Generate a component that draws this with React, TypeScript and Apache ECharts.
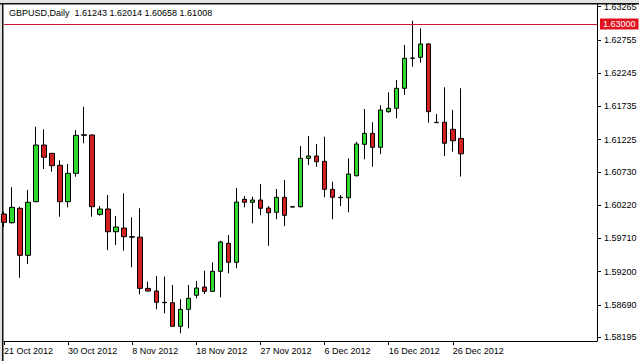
import React, { useEffect, useRef } from 'react';
import * as echarts from 'echarts';

const symbolName = 'GBPUSD';
const timeframe = 'Daily';

const dates = [
  '21 Oct 2012', '22 Oct 2012', '23 Oct 2012', '24 Oct 2012', '25 Oct 2012', '26 Oct 2012',
  '28 Oct 2012', '29 Oct 2012', '30 Oct 2012', '31 Oct 2012', '1 Nov 2012', '2 Nov 2012',
  '4 Nov 2012', '5 Nov 2012', '6 Nov 2012', '7 Nov 2012', '8 Nov 2012', '9 Nov 2012',
  '11 Nov 2012', '12 Nov 2012', '13 Nov 2012', '14 Nov 2012', '15 Nov 2012', '16 Nov 2012',
  '18 Nov 2012', '19 Nov 2012', '20 Nov 2012', '21 Nov 2012', '22 Nov 2012', '23 Nov 2012',
  '25 Nov 2012', '26 Nov 2012', '27 Nov 2012', '28 Nov 2012', '29 Nov 2012', '30 Nov 2012',
  '2 Dec 2012', '3 Dec 2012', '4 Dec 2012', '5 Dec 2012', '6 Dec 2012', '7 Dec 2012',
  '9 Dec 2012', '10 Dec 2012', '11 Dec 2012', '12 Dec 2012', '13 Dec 2012', '14 Dec 2012',
  '16 Dec 2012', '17 Dec 2012', '18 Dec 2012', '19 Dec 2012', '20 Dec 2012', '21 Dec 2012',
  '23 Dec 2012', '24 Dec 2012', '26 Dec 2012', '27 Dec 2012',
];

const opens = [
  1.60083, 1.59950, 1.60171, 1.59449, 1.60272, 1.61142, 1.61015, 1.60831, 1.60272, 1.60708,
  1.61291, 1.61296, 1.60078, 1.60160, 1.59811, 1.59868, 1.59735, 1.59728, 1.58942, 1.58901,
  1.58728, 1.58722, 1.58359, 1.58620, 1.58835, 1.58962, 1.58896, 1.59203, 1.59633, 1.59342,
  1.60309, 1.60263, 1.60298, 1.60175, 1.60109, 1.60340, 1.60190, 1.60195, 1.60938, 1.60974,
  1.60892, 1.60462, 1.60340, 1.60333, 1.60671, 1.61153, 1.61322, 1.61107, 1.61654, 1.61706,
  1.62013, 1.62473, 1.62489, 1.62693, 1.61490, 1.61491, 1.61383, 1.61243,
];
const highs = [
  1.60118, 1.60493, 1.60195, 1.60452, 1.61423, 1.61383, 1.61020, 1.60908, 1.60851, 1.61373,
  1.61730, 1.61305, 1.60206, 1.60375, 1.60052, 1.60401, 1.60032, 1.60171, 1.59044, 1.59131,
  1.59124, 1.58993, 1.58774, 1.58993, 1.59055, 1.59213, 1.59342, 1.59673, 1.59761, 1.60482,
  1.60359, 1.60349, 1.60544, 1.60206, 1.60467, 1.60605, 1.60200, 1.61127, 1.61281, 1.61158,
  1.61270, 1.60579, 1.60375, 1.60938, 1.61193, 1.61695, 1.61491, 1.61752, 1.61951, 1.62140,
  1.62678, 1.63051, 1.62934, 1.62704, 1.61618, 1.62028, 1.61680, 1.62014,
];
const lows = [
  1.59884, 1.59935, 1.59105, 1.59316, 1.60265, 1.60774, 1.60733, 1.60042, 1.60186, 1.60656,
  1.61169, 1.60042, 1.60057, 1.59530, 1.59607, 1.59520, 1.59265, 1.58850, 1.58895, 1.58620,
  1.58559, 1.58355, 1.58252, 1.58328, 1.58789, 1.58855, 1.58890, 1.58804, 1.59173, 1.59250,
  1.60186, 1.59940, 1.60063, 1.59596, 1.60002, 1.59899, 1.60185, 1.60185, 1.60835, 1.60809,
  1.60340, 1.60002, 1.60206, 1.60109, 1.60660, 1.60923, 1.60809, 1.61004, 1.61638, 1.61552,
  1.61910, 1.62344, 1.62406, 1.61485, 1.61480, 1.60974, 1.61040, 1.60658,
];
const closes = [
  1.59956, 1.60186, 1.59449, 1.60263, 1.61142, 1.60954, 1.60825, 1.60272, 1.60708, 1.61291,
  1.61300, 1.60195, 1.60160, 1.59811, 1.59884, 1.59735, 1.59728, 1.58942, 1.58901, 1.58728,
  1.58722, 1.58359, 1.58620, 1.58789, 1.58947, 1.58896, 1.59203, 1.59653, 1.59342, 1.60267,
  1.60263, 1.60298, 1.60171, 1.60103, 1.60340, 1.60063, 1.60195, 1.60938, 1.60974, 1.60886,
  1.60462, 1.60340, 1.60333, 1.60697, 1.61158, 1.61322, 1.61107, 1.61680, 1.61706, 1.62013,
  1.62473, 1.62478, 1.62693, 1.61654, 1.61485, 1.61169, 1.61208, 1.61008,
];

const priceTicks = [
  1.58195, 1.58690, 1.59200, 1.59710, 1.60220, 1.60730, 1.61225, 1.61735, 1.62245, 1.62755, 1.63265,
];
const levelPrice = 1.63;
const emptySlotsRight = 17;
const dateLabelEvery = 8;

const FONT = '"Liberation Sans", Arial, sans-serif';
const UP = '#2fd82f';
const DOWN = '#d21f1f';

export default function App() {
  const ref = useRef<HTMLDivElement>(null);

  useEffect(() => {
    if (!ref.current) return;
    const chart = echarts.init(ref.current, undefined, { renderer: 'svg' });

    const n = dates.length;
    const categories = dates.concat(Array.from({ length: emptySlotsRight }, () => ''));
    const candleData = dates.map((_, i) => [opens[i], closes[i], lows[i], highs[i]]);
    const last = n - 1;
    const fmt = (v: number) => v.toFixed(5);
    const titleText =
      symbolName + ',' + timeframe + '  ' +
      [opens[last], highs[last], lows[last], closes[last]].map(fmt).join(' ');

    const showDate = (i: number) => i < n && i % dateLabelEvery === 0;

    chart.setOption({
      animation: false,
      backgroundColor: '#ffffff',
      title: {
        text: titleText,
        left: 9,
        top: 8,
        padding: 0,
        textStyle: { fontSize: 9, fontWeight: 'normal', color: '#000', fontFamily: FONT },
      },
      grid: {
        left: 4,
        right: 42,
        top: 4,
        bottom: 20,
        containLabel: false,
        outerBoundsMode: 'none',
        show: false,
      },
      xAxis: {
        type: 'category',
        data: categories,
        boundaryGap: false,
        axisLine: { show: true, lineStyle: { color: '#000', width: 1 } },
        axisTick: {
          show: true,
          length: 4,
          interval: (i: number) => showDate(i),
          lineStyle: { color: '#000' },
        },
        axisLabel: {
          show: true,
          interval: (i: number) => showDate(i),
          align: 'left',
          margin: 5,
          fontSize: 9,
          color: '#000',
          fontFamily: FONT,
        },
        splitLine: { show: false },
      },
      yAxis: {
        type: 'value',
        position: 'right',
        min: 1.58134,
        max: 1.63307,
        scale: true,
        splitLine: { show: false },
        axisLine: { show: true, lineStyle: { color: '#000', width: 1 } },
        axisTick: {
          show: true,
          length: 4,
          customValues: priceTicks,
          lineStyle: { color: '#000' },
        },
        axisLabel: {
          show: true,
          customValues: priceTicks,
          formatter: (v: number) => fmt(v),
          margin: 7,
          fontSize: 9,
          color: '#000',
          fontFamily: FONT,
        },
      },
      series: [
        {
          type: 'candlestick',
          data: candleData,
          barWidth: 5,
          itemStyle: {
            color: UP,
            color0: DOWN,
            borderColor: '#000',
            borderColor0: '#000',
            borderColorDoji: '#000',
            borderWidth: 1,
          },
        },
        {
          type: 'line',
          data: [],
          clip: false,
          silent: true,
          markLine: {
            silent: true,
            symbol: ['none', 'none'],
            animation: false,
            data: [
              {
                yAxis: levelPrice,
                lineStyle: { color: '#c8192e', type: 'solid', width: 1 },
                label: {
                  show: true,
                  position: 'end',
                  distance: 3,
                  formatter: fmt(levelPrice),
                  backgroundColor: '#e0141e',
                  color: '#fff',
                  padding: [1, 3, 1, 3],
                  fontSize: 9,
                  fontFamily: FONT,
                },
              },
              {
                yAxis: closes[last],
                lineStyle: { opacity: 0 },
                label: {
                  show: true,
                  position: 'end',
                  distance: 3,
                  formatter: fmt(closes[last]),
                  backgroundColor: '#000',
                  color: '#fff',
                  padding: [1, 3, 1, 3],
                  fontSize: 9,
                  fontFamily: FONT,
                },
              },
            ],
          },
        },
      ],
      graphic: [
        { type: 'rect', shape: { x: 0, y: 0, width: 639, height: 3 }, style: { fill: '#e2e2e2' }, silent: true },
        { type: 'rect', shape: { x: 0, y: 0, width: 2, height: 361 }, style: { fill: '#e2e2e2' }, silent: true },
        { type: 'rect', shape: { x: 0, y: 3, width: 639, height: 1.5 }, style: { fill: '#111' }, silent: true },
        { type: 'rect', shape: { x: 2, y: 3, width: 1.5, height: 358 }, style: { fill: '#111' }, silent: true },
      ],
    });

    return () => chart.dispose();
  }, []);

  return (
    <div
      ref={ref}
      style={{ position: 'absolute', left: 0, top: 0, width: 639, height: 361 }}
    />
  );
}
